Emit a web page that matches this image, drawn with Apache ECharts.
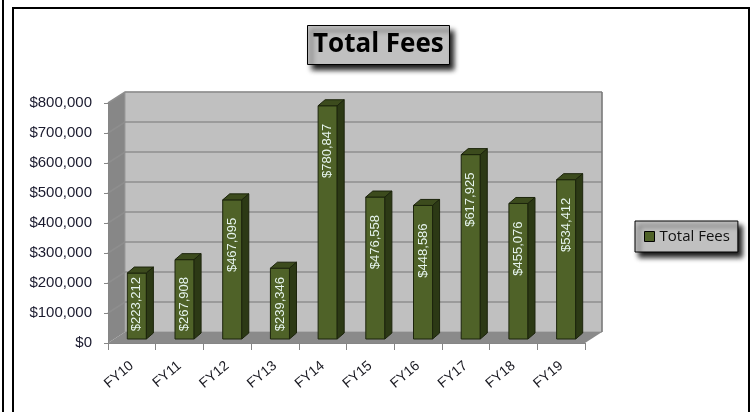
<!DOCTYPE html>
<html>
<head>
<meta charset="utf-8">
<script src="https://cdn.jsdelivr.net/npm/echarts@6/dist/echarts.min.js"></script>
<style>
  html, body { margin: 0; padding: 0; background: #fff; }
  #chart { width: 752px; height: 412px; }
</style>
</head>
<body>
<div id="chart"></div>
<script>
// 数据
const years = ["FY10", "FY11", "FY12", "FY13", "FY14", "FY15", "FY16", "FY17", "FY18", "FY19"];
const fees = [223212, 267908, 467095, 239346, 780847, 476558, 448586, 617925, 455076, 534412];
const yMax = 800000;
const yStep = 100000;

const money = (v) => "$" + v.toLocaleString("en-US");

// 3D 深度偏移
const DX = 17, DY = -11;

// 墙和地板
function renderWalls(params, api) {
  const r = params.coordSys;
  const L = r.x, R = r.x + r.width, T = r.y, B = r.y + r.height;
  const kids = [];
  // 左侧墙
  kids.push({
    type: "polygon",
    shape: { points: [[L, B], [L, T], [L + DX, T + DY], [L + DX, B + DY]] },
    style: { fill: "#878787" },
  });
  // 后墙
  kids.push({
    type: "rect",
    shape: { x: L + DX, y: T + DY, width: R - L, height: B - T },
    style: { fill: "#c0c0c0", stroke: "#9a9a9a", lineWidth: 1 },
  });
  // 网格线
  for (let v = yStep; v <= yMax; v += yStep) {
    const y = api.coord([0, v])[1];
    kids.push({
      type: "polyline",
      shape: { points: [[L, y], [L + DX, y + DY], [R + DX, y + DY]] },
      style: { fill: null, stroke: "#8e8e8e", lineWidth: 1.6 },
    });
  }
  // 地板
  kids.push({
    type: "polygon",
    shape: { points: [[L, B], [R, B], [R + DX, B + DY], [L + DX, B + DY]] },
    style: { fill: "#8a8a8a" },
  });
  // 后墙右边缘
  kids.push({
    type: "line",
    shape: { x1: R + DX, y1: T + DY, x2: R + DX, y2: B + DY },
    style: { stroke: "#707070", lineWidth: 1.2 },
  });
  return { type: "group", children: kids };
}

// 3D 柱子
function renderBar(params, api) {
  const idx = api.value(0);
  const val = api.value(1);
  const top = api.coord([idx, val]);
  const base = api.coord([idx, 0]);
  const band = api.size([1, 0])[0];
  const w = band * 0.4;
  const x0 = top[0] + 5 - w / 2;
  const yT = top[1] - 3;
  const yB = base[1] - 4;
  const dx = 7, dy = -6;
  const h = yB - yT;
  const gap = Math.max(4, Math.min(18, h - 62));
  const edge = "#1c240c";
  return {
    type: "group",
    children: [
      {
        type: "rect",
        shape: { x: x0, y: yT, width: w, height: h },
        style: { fill: "#4f6228", stroke: edge, lineWidth: 1 },
      },
      {
        type: "polygon",
        shape: { points: [[x0, yT], [x0 + dx, yT + dy], [x0 + w + dx, yT + dy], [x0 + w, yT]] },
        style: { fill: "#3c4b1d", stroke: edge, lineWidth: 1 },
      },
      {
        type: "polygon",
        shape: { points: [[x0 + w, yT], [x0 + w + dx, yT + dy], [x0 + w + dx, yB + dy], [x0 + w, yB]] },
        style: { fill: "#2c3915", stroke: edge, lineWidth: 1 },
      },
      {
        type: "text",
        x: x0 + w / 2,
        y: yT + gap,
        rotation: Math.PI / 2,
        style: {
          text: money(val),
          fill: "#e6f4ee",
          font: "13px 'Liberation Sans', Arial, sans-serif",
          align: "right",
          verticalAlign: "middle",
        },
      },
    ],
  };
}

const myChart = echarts.init(document.querySelector("#chart"));
const option = {
  backgroundColor: "#fff",
  animation: false,
  title: {
    text: "Total Fees",
    left: 307,
    top: 25,
    padding: [7, 6, 7, 6],
    backgroundColor: "#c0c0c0",
    borderColor: "#000",
    borderWidth: 1,
    shadowColor: "rgba(0,0,0,0.9)",
    shadowBlur: 5,
    shadowOffsetX: 4,
    shadowOffsetY: 5,
    textStyle: {
      color: "#000",
      fontFamily: "Open Sans",
      fontWeight: "bold",
      fontSize: 26,
    },
  },
  legend: {
    left: 635,
    top: 221,
    padding: [8, 8, 8, 9],
    itemWidth: 10,
    itemHeight: 10,
    backgroundColor: "#c0c0c0",
    borderColor: "#000",
    borderWidth: 1,
    shadowColor: "rgba(0,0,0,0.9)",
    shadowBlur: 5,
    shadowOffsetX: 4,
    shadowOffsetY: 5,
    textStyle: { color: "#111", fontFamily: "Open Sans", fontSize: 15 },
    data: [{ name: "Total Fees", icon: "rect", itemStyle: { color: "#4f6228", borderColor: "#000", borderWidth: 1 } }],
  },
  grid: {
    left: 108,
    right: 167,
    top: 103,
    bottom: 69,
  },
  xAxis: {
    type: "category",
    data: years,
    z: 10,
    axisLine: { lineStyle: { color: "#868686", width: 1 } },
    axisTick: { show: true, length: 7, lineStyle: { color: "#868686" } },
    axisLabel: {
      rotate: 40,
      margin: 21,
      color: "#1a1a22",
      fontFamily: "Liberation Sans",
      fontSize: 14,
    },
  },
  yAxis: {
    type: "value",
    min: 0,
    max: yMax,
    interval: yStep,
    z: 10,
    axisLine: { show: true, lineStyle: { color: "#868686" } },
    axisTick: { show: true, length: 4, lineStyle: { color: "#868686" } },
    splitLine: { show: false },
    axisLabel: {
      margin: 16,
      color: "#1a1a2e",
      fontFamily: "Liberation Sans",
      fontSize: 15,
      formatter: money,
    },
  },
  series: [
    {
      type: "custom",
      name: "walls",
      z: 1,
      silent: true,
      data: [[0, 0]],
      renderItem: renderWalls,
    },
    {
      type: "custom",
      name: "Total Fees",
      z: 3,
      itemStyle: { color: "#4f6228" },
      data: fees.map((v, i) => [i, v]),
      renderItem: renderBar,
    },
  ],
  graphic: [
    { type: "rect", shape: { x: 3, y: -5, width: 0, height: 430 }, style: { fill: null, stroke: "#000", lineWidth: 2 } },
    { type: "rect", shape: { x: 13, y: 8, width: 736, height: 420 }, style: { fill: null, stroke: "#000", lineWidth: 2 } },
  ],
};
myChart.setOption(option);
</script>
</body>
</html>
